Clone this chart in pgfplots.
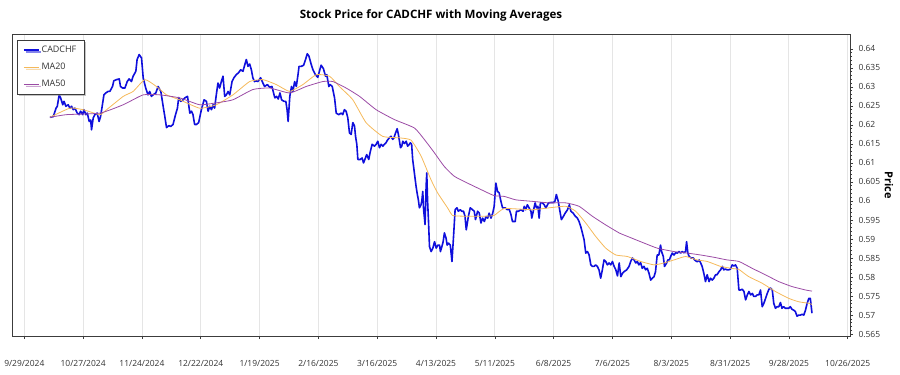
\documentclass[border=0pt]{standalone}
\usepackage{pgfplots}
\pgfplotsset{compat=1.18}
\usepackage{fontspec}
\setmainfont{Open Sans}
\usetikzlibrary{shadows}
\definecolor{priceblue}{RGB}{15,15,220}
\definecolor{maorange}{RGB}{245,185,90}
\definecolor{mapurple}{RGB}{155,75,165}
\definecolor{gridgray}{RGB}{229,229,229}
\definecolor{axisgray}{RGB}{60,60,60}
\begin{document}
\begin{tikzpicture}
\begin{axis}[
  scale only axis, width=838bp, height=302bp,
  xmin=-5.86, xmax=393.1, ymin=0.5645, ymax=0.6439,
  axis line style={axisgray, line width=0.8bp},
  xtick={0,28,56,84,112,140,168,196,224,252,280,308,336,364,392},
  xticklabels={9/29/2024,10/27/2024,11/24/2024,12/22/2024,1/19/2025,2/16/2025,3/16/2025,4/13/2025,5/11/2025,6/8/2025,7/6/2025,8/3/2025,8/31/2025,9/28/2025,10/26/2025},
  ytick={0.565,0.57,0.575,0.58,0.585,0.59,0.595,0.6,0.605,0.61,0.615,0.62,0.625,0.63,0.635,0.64},
  yticklabels={0.565,0.57,0.575,0.58,0.585,0.59,0.595,0.6,0.605,0.61,0.615,0.62,0.625,0.63,0.635,0.64},
  minor y tick num=4,
  tick align=outside, major tick length=3bp, minor tick length=2bp,
  xtick pos=bottom, ytick pos=right, yticklabel pos=right,
  xmajorgrids, grid style={gridgray, line width=0.8bp},
  tick style={axisgray, line width=0.6bp},
  ticklabel style={font=\fontsize{8.5}{10}\selectfont, text=black!80},
  /pgf/number format/assume math mode=true,
  xticklabel style={yshift=-18bp},
  yticklabel style={xshift=2bp},
  title={Stock Price for CADCHF with Moving Averages},
  title style={at={(0.5,1)}, anchor=base, yshift=10bp, font=\bfseries\fontsize{11.6}{13}\selectfont},
  legend style={at={(0,1)}, anchor=north west, xshift=4.7bp, yshift=-5.7bp,
    draw=axisgray, line width=0.6bp, fill=white,
    font=\fontsize{9}{10}\selectfont, text=black!80,
    drop shadow={shadow xshift=2bp, shadow yshift=-2bp, fill=black!45},
    inner xsep=6bp, inner ysep=4bp, row sep=5bp},
  legend cell align=left,
  legend image code/.code={\draw[#1] (0bp,0bp) -- (15bp,0bp);},
]
\coordinate (bl) at (rel axis cs:0,0);
\coordinate (tr) at (rel axis cs:1,1);
\coordinate (rc) at (rel axis cs:1,0.5);
\addplot[priceblue, line width=1.6bp, line join=round] coordinates {
(12.2,0.6220)(13.8,0.6222)(15.1,0.6244)(15.7,0.6249)(16.6,0.6279)(17.3,0.6271)(18.3,0.6253)(18.9,0.6262)(19.8,0.6249)(20.9,0.6253)
(21.7,0.6244)(22.5,0.6249)(23.3,0.6240)(24.1,0.6244)(25.2,0.6231)(26.1,0.6227)(26.8,0.6236)(27.8,0.6227)(28.4,0.6240)(29.3,0.6227)
(30.0,0.6231)(30.9,0.6209)(31.6,0.6213)(32.0,0.6187)(32.8,0.6218)(33.6,0.6227)(34.7,0.6231)(35.6,0.6209)(36.3,0.6222)(37.3,0.6257)
(37.9,0.6279)(38.8,0.6284)(39.9,0.6288)(40.7,0.6288)(42.0,0.6301)(42.6,0.6316)(43.9,0.6319)(45.2,0.6321)(45.8,0.6301)(46.8,0.6297)
(47.9,0.6297)(49.0,0.6314)(49.9,0.6321)(51.0,0.6314)(51.8,0.6328)(53.1,0.6341)(53.7,0.6372)(54.7,0.6385)(55.8,0.6376)(56.6,0.6324)
(57.8,0.6297)(58.9,0.6279)(59.7,0.6288)(60.5,0.6275)(61.3,0.6279)(62.6,0.6284)(63.7,0.6301)(65.0,0.6288)(66.1,0.6249)(66.9,0.6222)
(67.7,0.6193)(68.8,0.6198)(69.7,0.6196)(70.8,0.6201)(72.0,0.6227)(72.9,0.6244)(73.5,0.6272)(74.5,0.6262)(75.6,0.6266)(76.4,0.6271)
(77.7,0.6275)(78.8,0.6231)(79.6,0.6236)(80.3,0.6227)(81.1,0.6201)(81.9,0.6201)(83.0,0.6206)(84.3,0.6240)(85.6,0.6266)(86.7,0.6262)
(87.5,0.6236)(88.3,0.6249)(89.1,0.6240)(89.9,0.6253)(90.6,0.6244)(91.4,0.6279)(92.2,0.6310)(93.0,0.6297)(93.8,0.6314)(94.6,0.6328)
(95.4,0.6275)(96.2,0.6279)(97.0,0.6288)(97.8,0.6279)(98.9,0.6314)(99.8,0.6324)(100.9,0.6332)(102.0,0.6337)(103.0,0.6345)(104.1,0.6341)
(104.9,0.6357)(105.7,0.6372)(106.5,0.6354)(107.3,0.6360)(108.1,0.6345)(108.8,0.6324)(109.6,0.6314)(110.4,0.6316)(111.2,0.6314)(112.5,0.6324)
(113.6,0.6310)(114.4,0.6301)(115.7,0.6306)(116.8,0.6299)(117.9,0.6301)(118.8,0.6281)(119.3,0.6271)(120.1,0.6275)(120.9,0.6268)(121.7,0.6284)
(122.5,0.6266)(123.6,0.6262)(124.5,0.6262)(125.1,0.6240)(125.6,0.6209)(126.4,0.6275)(127.2,0.6301)(127.9,0.6288)(128.7,0.6314)(129.5,0.6301)
(130.3,0.6332)(130.8,0.6354)(131.9,0.6354)(133.0,0.6357)(133.9,0.6372)(134.7,0.6387)(135.5,0.6381)(136.6,0.6359)(137.4,0.6345)(138.6,0.6332)
(139.7,0.6325)(140.5,0.6341)(141.3,0.6357)(142.4,0.6348)(143.4,0.6328)(144.0,0.6332)(145.0,0.6301)(145.6,0.6306)(146.6,0.6301)(147.7,0.6271)
(148.5,0.6231)(149.7,0.6227)(150.9,0.6231)(151.6,0.6227)(152.4,0.6240)(153.2,0.6236)(154.0,0.6219)(154.8,0.6179)(155.6,0.6175)(156.4,0.6206)
(157.2,0.6197)(157.7,0.6170)(158.3,0.6149)(158.8,0.6109)(159.9,0.6109)(160.8,0.6113)(161.5,0.6100)(162.4,0.6113)(163.0,0.6122)(164.0,0.6109)
(164.6,0.6127)(165.6,0.6149)(166.7,0.6144)(167.5,0.6149)(168.3,0.6157)(169.1,0.6140)(169.9,0.6149)(170.7,0.6144)(171.4,0.6149)(172.2,0.6153)
(172.9,0.6160)(173.8,0.6166)(174.6,0.6170)(175.4,0.6162)(176.0,0.6166)(176.5,0.6175)(177.5,0.6190)(178.1,0.6175)(179.1,0.6140)(179.7,0.6144)
(180.2,0.6157)(181.0,0.6151)(181.8,0.6157)(182.5,0.6144)(183.3,0.6149)(183.8,0.6153)(184.4,0.6149)(184.9,0.6109)(185.7,0.6074)(186.5,0.6039)
(187.0,0.6021)(187.6,0.6003)(188.1,0.5982)(188.9,0.5990)(189.3,0.6003)(189.7,0.6025)(190.1,0.5977)(190.8,0.5938)(191.3,0.6039)(191.6,0.6074)
(192.0,0.5999)(192.4,0.5951)(192.9,0.5880)(193.7,0.5867)(194.5,0.5876)(195.3,0.5893)(196.1,0.5876)(196.9,0.5884)(197.7,0.5884)(198.1,0.5867)
(198.8,0.5880)(199.4,0.5893)(200.0,0.5916)(200.8,0.5902)(201.3,0.5884)(202.0,0.5889)(202.8,0.5884)(203.6,0.5841)(204.4,0.5911)(205.1,0.5977)
(206.0,0.5982)(206.6,0.5973)(207.6,0.5977)(208.2,0.5973)(209.1,0.5973)(209.8,0.5960)(210.4,0.5924)(211.4,0.5959)(212.3,0.5982)(213.4,0.5977)
(214.2,0.5973)(214.8,0.5951)(215.8,0.5973)(216.6,0.5968)(217.4,0.5942)(218.2,0.5955)(219.0,0.5946)(219.8,0.5959)(220.6,0.5955)(221.3,0.5968)
(222.2,0.5955)(223.0,0.5968)(223.7,0.5986)(224.5,0.6047)(225.3,0.6025)(226.1,0.6021)(226.9,0.5999)(227.7,0.5982)(228.9,0.5982)(230.0,0.5977)
(230.8,0.5979)(231.7,0.5964)(232.4,0.5946)(233.7,0.5946)(234.3,0.5973)(235.3,0.5973)(236.4,0.5977)(237.5,0.5973)(238.0,0.5986)(238.7,0.5977)
(239.5,0.5990)(240.3,0.5982)(241.2,0.5973)(241.6,0.5955)(242.3,0.5973)(243.2,0.5995)(243.8,0.5982)(244.5,0.5986)(245.1,0.5955)(245.7,0.5995)
(246.7,0.5995)(247.5,0.5990)(248.3,0.5982)(249.6,0.5995)(250.7,0.5996)(251.8,0.5996)(252.6,0.5999)(253.3,0.6017)(254.2,0.5999)(255.0,0.5973)
(255.7,0.5951)(256.7,0.5960)(257.5,0.5968)(258.6,0.5977)(259.5,0.5990)(260.2,0.5973)(261.3,0.5968)(262.3,0.5960)(263.3,0.5955)(264.1,0.5946)
(264.9,0.5933)(265.7,0.5916)(266.5,0.5898)(267.3,0.5863)(268.1,0.5867)(268.9,0.5858)(269.7,0.5832)(270.4,0.5828)(271.2,0.5828)(272.0,0.5832)
(272.8,0.5828)(273.6,0.5819)(274.4,0.5797)(275.2,0.5819)(276.0,0.5845)(276.8,0.5841)(277.6,0.5832)(278.4,0.5837)(279.2,0.5832)(280.0,0.5841)
(280.8,0.5828)(281.6,0.5819)(282.4,0.5803)(283.2,0.5837)(284.0,0.5801)(284.8,0.5810)(285.5,0.5814)(286.8,0.5819)(287.9,0.5828)(288.7,0.5841)
(289.5,0.5850)(290.3,0.5845)(291.1,0.5837)(291.8,0.5841)(292.6,0.5832)(293.4,0.5838)(294.2,0.5823)(295.0,0.5828)(295.8,0.5819)(296.6,0.5823)
(297.4,0.5810)(298.2,0.5792)(299.0,0.5797)(299.8,0.5801)(300.5,0.5814)(301.3,0.5858)(302.1,0.5858)(302.9,0.5884)(303.4,0.5867)(304.2,0.5854)
(304.8,0.5828)(305.8,0.5837)(306.4,0.5845)(307.1,0.5845)(307.7,0.5854)(308.5,0.5863)(309.3,0.5858)(310.1,0.5864)(310.9,0.5863)(311.7,0.5867)
(312.5,0.5863)(313.2,0.5867)(314.0,0.5864)(314.8,0.5867)(315.3,0.5893)(315.9,0.5863)(316.5,0.5854)(317.5,0.5850)(318.5,0.5850)(319.1,0.5845)
(320.1,0.5841)(320.7,0.5841)(321.3,0.5845)(322.0,0.5837)(322.7,0.5828)(323.5,0.5810)(324.3,0.5788)(325.1,0.5806)(326.0,0.5788)(326.7,0.5797)
(327.5,0.5792)(328.3,0.5797)(329.1,0.5806)(329.8,0.5806)(330.7,0.5814)(331.5,0.5819)(332.3,0.5828)(333.0,0.5819)(333.8,0.5821)(334.6,0.5819)
(335.4,0.5819)(336.2,0.5821)(337.0,0.5832)(337.8,0.5829)(338.6,0.5832)(339.4,0.5823)(340.2,0.5766)(341.0,0.5766)(341.8,0.5768)(342.6,0.5762)
(343.4,0.5740)(344.2,0.5753)(345.0,0.5762)(345.8,0.5753)(346.6,0.5757)(347.3,0.5749)(348.1,0.5749)(348.9,0.5753)(349.7,0.5753)(350.5,0.5766)
(351.3,0.5722)(352.1,0.5731)(352.9,0.5744)(353.7,0.5757)(354.5,0.5768)(355.3,0.5771)(356.1,0.5766)(356.8,0.5731)(357.6,0.5718)(358.4,0.5722)
(359.2,0.5722)(360.0,0.5733)(360.7,0.5718)(361.5,0.5722)(362.3,0.5718)(363.1,0.5718)(363.9,0.5718)(364.7,0.5722)(365.5,0.5715)(366.3,0.5713)
(367.1,0.5709)(367.9,0.5697)(368.7,0.5700)(369.5,0.5700)(370.3,0.5702)(371.1,0.5700)(371.9,0.5713)(372.7,0.5731)(373.5,0.5744)(374.2,0.5744)
(375.0,0.5705)
};
\addlegendentry{CADCHF}
\addplot[maorange, line width=0.8bp, line join=round, smooth, tension=0.3] coordinates {
(12.2,0.6220)(21.7,0.6244)(28.0,0.6240)(36.0,0.6227)(39.2,0.6240)(47.1,0.6275)(51.8,0.6288)(57.4,0.6319)(62.9,0.6301)(67.7,0.6279)
(74.0,0.6266)(83.5,0.6244)(91.4,0.6253)(99.3,0.6279)(107.3,0.6314)(113.6,0.6319)(120.0,0.6306)(126.3,0.6288)(132.6,0.6306)(139.0,0.6332)
(145.3,0.6328)(150.0,0.6301)(156.4,0.6266)(162.7,0.6206)(170.6,0.6170)(178.5,0.6166)(184.1,0.6160)(188.9,0.6118)(193.6,0.6056)(196.8,0.6021)
(201.5,0.5982)(203.9,0.5962)(209.5,0.5960)(219.0,0.5960)(223.7,0.5962)(228.5,0.5980)(241.9,0.5977)(249.9,0.5982)(257.8,0.5986)(262.5,0.5973)
(267.3,0.5942)(272.0,0.5907)(276.8,0.5876)(281.6,0.5858)(287.1,0.5854)(293.4,0.5841)(299.8,0.5832)(304.5,0.5837)(309.3,0.5845)(314.8,0.5854)
(320.3,0.5845)(325.1,0.5841)(331.5,0.5828)(337.8,0.5822)(340.2,0.5820)(344.9,0.5801)(351.2,0.5784)(357.6,0.5762)(363.9,0.5744)(368.7,0.5735)
(373.4,0.5731)(375.0,0.5728)
};
\addlegendentry{MA20}
\addplot[mapurple, line width=0.8bp, line join=round, smooth, tension=0.3] coordinates {
(12.2,0.6220)(20.2,0.6227)(36.0,0.6231)(47.1,0.6253)(56.6,0.6279)(64.5,0.6279)(74.0,0.6271)(83.5,0.6253)(91.4,0.6258)(99.3,0.6266)
(108.8,0.6293)(116.8,0.6297)(126.3,0.6284)(134.2,0.6301)(142.1,0.6314)(146.9,0.6314)(153.2,0.6297)(159.6,0.6275)(167.5,0.6240)(176.2,0.6214)
(185.7,0.6192)(190.4,0.6162)(195.2,0.6127)(199.9,0.6091)(204.7,0.6065)(211.0,0.6047)(217.4,0.6030)(223.7,0.6014)(228.5,0.6012)(234.0,0.6003)
(241.9,0.5999)(249.9,0.5995)(257.8,0.5995)(264.1,0.5986)(270.4,0.5960)(276.8,0.5937)(283.2,0.5916)(287.1,0.5907)(293.4,0.5893)(301.3,0.5876)
(309.3,0.5867)(315.6,0.5863)(322.0,0.5858)(328.3,0.5852)(334.6,0.5845)(340.2,0.5841)(346.5,0.5823)(352.8,0.5806)(359.2,0.5788)(365.5,0.5775)
(371.9,0.5766)(375.0,0.5763)
};
\addlegendentry{MA50}
\end{axis}
\node[rotate=-90, font=\bfseries\fontsize{11}{13}\selectfont] at ([xshift=39bp]rc) {Price};
\pgfresetboundingbox
\path[use as bounding box] ([shift={(-12bp,-39bp)}]bl) rectangle ([shift={(50bp,34bp)}]tr);
\end{tikzpicture}
\end{document}
